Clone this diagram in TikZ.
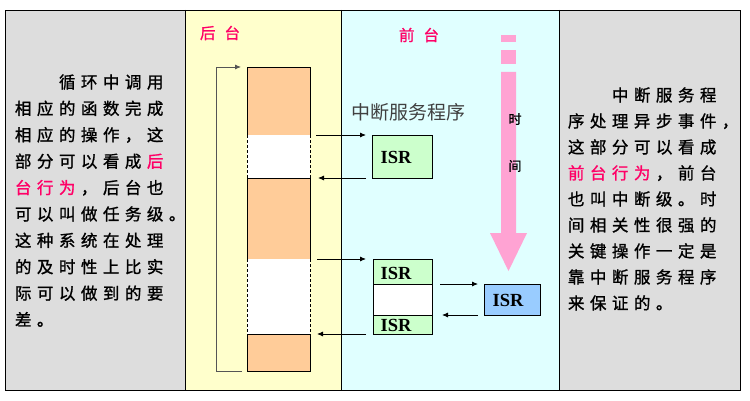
\documentclass[tikz,border=0pt]{standalone}
\usepackage{fontspec}
\setmainfont{Liberation Serif}
\newfontfamily\cjk{Noto Sans CJK SC}
\newfontfamily\cjkb[FakeBold=1.2]{Noto Sans CJK SC}
\usetikzlibrary{arrows.meta}
\definecolor{panelgray}{HTML}{DDDDDD}
\definecolor{panelyellow}{HTML}{FFFFCC}
\definecolor{panelcyan}{HTML}{E0FFFF}
\definecolor{orangefill}{HTML}{FFCC99}
\definecolor{greenfill}{HTML}{CCFFCC}
\definecolor{bluefill}{HTML}{99CCFF}
\definecolor{timepink}{HTML}{FFA3D3}
\definecolor{hl}{HTML}{FF0066}
\definecolor{loopgray}{HTML}{555555}
\newcommand\mychs[1]{\mychsA#1\relax}
\def\mychsA#1{\ifx\relax#1\else\makebox[22pt]{#1}\expandafter\mychsA\fi}
\begin{document}
\begin{tikzpicture}[x=1pt,y=-1pt,
  txt/.style={anchor=west,inner sep=0pt,text height=12.5pt,text depth=0pt,font=\cjkb\fontsize{16.5}{16.5}\selectfont},
  blk/.style={anchor=north west,inner sep=0pt,outer sep=0pt,minimum width=63pt},
  obox/.style={blk,draw=black,line width=0.8pt,fill=orangefill},
  wbox/.style={blk,fill=white},
  isrbox/.style={anchor=north west,inner sep=0pt,outer sep=0pt,draw=black,line width=0.8pt},
  isrtxt/.style={inner sep=0pt,font=\bfseries\fontsize{18.5}{18.5}\selectfont},
  arr/.style={line width=0.8pt,-{Latex[length=6pt,width=5pt]}},
  sidedash/.style={line width=0.8pt,dash pattern=on 3pt off 2pt},
  toplabel/.style={inner sep=0pt,text=hl,font=\cjkb\fontsize{15.5}{15.5}\selectfont}]
\useasboundingbox (0,0) rectangle (750,401);
\fill[white] (0,0) rectangle (750,401);
% panels
\fill[panelgray] (5,10) rectangle (185,390);
\fill[panelyellow] (185,10) rectangle (341,390);
\fill[panelcyan] (341,10) rectangle (559,390);
\fill[panelgray] (559,10) rectangle (740,390);
\draw[line width=0.8pt] (5,10) rectangle (740,390);
\draw[line width=0.8pt] (185,10) -- (185,390);
\draw[line width=0.8pt] (341,10) -- (341,390);
\draw[line width=0.8pt] (559,10) -- (559,390);
% labels
\node[toplabel] (lblbg) at (220,33) {后\hspace{9pt}台};
\node[toplabel] (lblfg) at (419,35) {前\hspace{9pt}台};
% column blocks
\node[obox,minimum height=68pt] (b1) at (247,67) {};
\node[wbox,minimum height=43pt] (b2) at (247,135) {};
\node[obox,minimum height=81pt] (b3) at (247,178) {};
\node[wbox,minimum height=75pt] (b4) at (247,259) {};
\node[obox,minimum height=37pt] (b5) at (247,334) {};
\draw[sidedash] (b2.north west) -- (b2.south west);
\draw[sidedash] (b2.north east) -- (b2.south east);
\draw[sidedash] (b4.north west) -- (b4.south west);
\draw[sidedash] (b4.north east) -- (b4.south east);
% loop line
\coordinate (lt) at (216,67);
\coordinate (lb) at (216,371);
\draw[line width=0.8pt,draw=loopgray,-{Latex[length=6pt,width=5pt]}] ([xshift=-5pt]b5.south west) -- (lb) -- (lt) -- ([xshift=-6pt]b1.north west);
% ISR title
\node[inner sep=0pt,text=black!75,font=\cjk\fontsize{19}{19}\selectfont] (isrtitle) at (408,112) {中断服务程序};
% ISR boxes
\node[isrbox,fill=greenfill,minimum width=60pt,minimum height=43pt] (i1) at (372,135) {};
\node[isrtxt] (t1) at (396,157) {ISR};
\node[isrbox,fill=greenfill,minimum width=59pt,minimum height=25pt] (i2a) at (373,259) {};
\node[isrbox,fill=white,minimum width=59pt,minimum height=31pt] (i2b) at (373,284) {};
\node[isrbox,fill=greenfill,minimum width=59pt,minimum height=19pt] (i2c) at (373,315) {};
\node[isrtxt] (t2a) at (396,273) {ISR};
\node[isrtxt] (t2c) at (396,325) {ISR};
\node[isrbox,fill=bluefill,minimum width=56pt,minimum height=31pt] (i3) at (484,284) {};
\node[isrtxt] (t3) at (508,300) {ISR};
% arrows
\draw[arr] ([xshift=6pt]b1.south east) -- ([xshift=-6pt]i1.north west);
\draw[arr] ([xshift=-6pt]i1.south west) -- ([xshift=8pt]b2.south east);
\draw[arr] ([xshift=7pt]b3.south east) -- ([xshift=-7pt]i2a.north west);
\draw[arr] ([xshift=-7pt]i2c.south west) -- ([xshift=7pt]b4.south east);
\draw[arr] ([xshift=8pt]i2a.south east) -- ([xshift=-6pt]i3.north west);
\draw[arr] ([xshift=-6pt]i3.south west) -- ([xshift=10pt]i2c.north east);
% time arrow
\fill[timepink] (501,35) rectangle (516,42);
\fill[timepink] (501,50) rectangle (516,64);
\fill[timepink] (501,72) -- (516,72) -- (516,233) -- (527,233) -- (508.5,271) -- (490,233) -- (501,233) -- cycle;
\node[inner sep=0pt,font=\cjkb\fontsize{13}{13}\selectfont] (shi) at (515,119) {时};
\node[inner sep=0pt,font=\cjkb\fontsize{13}{13}\selectfont] (jian) at (515,166) {间};
% left text
\node[txt] (l1) at (12,82) {\hspace{44pt}\mychs{循环中调用}};
\node[txt] (l2) at (12,108.4) {\mychs{相应的函数完成}};
\node[txt] (l3) at (12,134.8) {\mychs{相应的操作，这}};
\node[txt] (l4) at (12,161.2) {\mychs{部分可以看成}\textcolor{hl}{\mychs{后}}};
\node[txt] (l5) at (12,187.6) {\textcolor{hl}{\mychs{台行为}}\mychs{，后台也}};
\node[txt] (l6) at (12,214) {\mychs{可以叫做任务级。}};
\node[txt] (l7) at (12,240.4) {\mychs{这种系统在处理}};
\node[txt] (l8) at (12,266.8) {\mychs{的及时性上比实}};
\node[txt] (l9) at (12,293.2) {\mychs{际可以做到的要}};
\node[txt] (l10) at (12,319.6) {\mychs{差。}};
% right text
\node[txt] (r1) at (565,95) {\hspace{44pt}\mychs{中断服务程}};
\node[txt] (r2) at (565,121) {\mychs{序处理异步事件，}};
\node[txt] (r3) at (565,147) {\mychs{这部分可以看成}};
\node[txt] (r4) at (565,173) {\textcolor{hl}{\mychs{前台行为}}\mychs{，前台}};
\node[txt] (r5) at (565,199) {\mychs{也叫中断级。时}};
\node[txt] (r6) at (565,225) {\mychs{间相关性很强的}};
\node[txt] (r7) at (565,251) {\mychs{关键操作一定是}};
\node[txt] (r8) at (565,277) {\mychs{靠中断服务程序}};
\node[txt] (r9) at (565,303) {\mychs{来保证的。}};
\end{tikzpicture}
\end{document}
